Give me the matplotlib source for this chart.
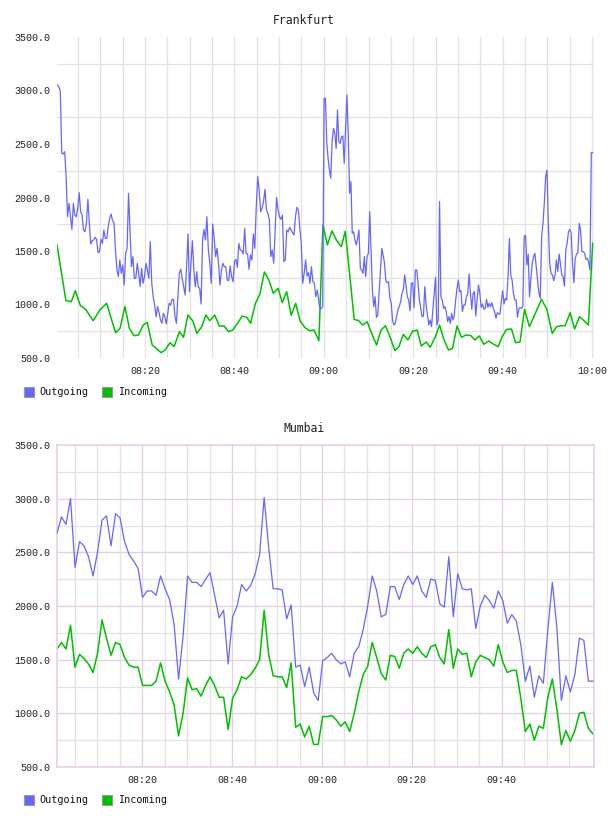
import numpy as np
import matplotlib
matplotlib.use("Agg")
import matplotlib.pyplot as plt
from matplotlib.patches import Rectangle
from matplotlib.ticker import FuncFormatter

# ---------------- data ----------------
series_names = ["Outgoing", "Incoming"]
chart_titles = ["Frankfurt", "Mumbai"]
y_ticks = [500, 1000, 1500, 2000, 2500, 3000, 3500]

# Frankfurt outgoing, two evenly sampled stretches (minutes after 08:00)
fra_out_a_span = (0.39, 58.85)
fra_out_a = [
    3051, 3036, 2989, 2413, 2406, 2428, 2195, 1820, 1945, 1820, 1702, 1945, 1836, 1820, 1899, 2045,
    1867, 1836, 1696, 1680, 1758, 1983, 1758, 1565, 1596, 1603, 1628, 1609, 1484, 1494, 1609, 1572,
    1696, 1618, 1618, 1727, 1805, 1846, 1783, 1765, 1509, 1322, 1260, 1416, 1291, 1369, 1182, 1478,
    1525, 2039, 1696, 1353, 1447, 1244, 1244, 1385, 1291, 1167, 1338, 1198, 1260, 1385, 1322, 1244,
    1587, 1198, 1073, 995, 886, 980, 924, 855, 824, 917, 886, 818, 917, 1011, 995, 1048,
    1048, 886, 824, 1073, 1291, 1329, 1244, 1167, 1089, 1353, 1659, 1120, 1385, 1596, 1322, 1167,
    1307, 1167, 1151, 1005, 1603, 1702, 1603, 1820, 1509, 1385, 1198, 1752, 1618, 1447, 1525, 1385,
    1182, 1322, 1385, 1353, 1353, 1229, 1223, 1360, 1260, 1213, 1400, 1422, 1347, 1572, 1509, 1503,
    1472, 1712, 1478, 1472, 1329, 1463, 1416, 1659, 1525, 1914, 2195, 2070, 1867, 1899, 1961, 2076,
    1883, 1852, 1790, 1447, 1509, 1385, 1696, 2001, 1883, 1820, 1796, 1836, 1400, 1416, 1696, 1680,
    1721, 1696, 1671, 1649, 1820, 1908, 1883, 1712, 1572, 1198, 1291, 1416, 1266, 1297, 1198, 1353,
    1213, 1198, 1073, 1135, 1042,
]
fra_out_b_span = (59.15, 120.15)
fra_out_b = [
    949, 964, 980, 2927, 2927, 2522, 2366, 2257, 2179, 2522, 2646, 2600, 2459, 2818, 2522, 2506,
    2568, 2575, 2319, 2640, 2958, 2600, 2039, 2148, 1665, 1680, 1603, 1556, 1618, 1696, 1338, 1322,
    1291, 1447, 1260, 1447, 1478, 1867, 1509, 1135, 980, 1073, 880, 902, 1104, 1322, 1525, 1463,
    1385, 1223, 1204, 1213, 1058, 1011, 855, 808, 824, 886, 949, 980, 1026, 1104, 1135, 1276,
    1182, 1073, 1042, 942, 1198, 1204, 970, 1322, 1322, 1198, 1042, 964, 886, 892, 1167, 995,
    902, 808, 855, 793, 949, 1104, 1254, 808, 855, 1961, 1073, 1042, 964, 980, 933, 840,
    886, 824, 917, 855, 902, 1042, 1151, 1229, 1120, 1129, 933, 995, 995, 1073, 1104, 1285,
    1104, 955, 1104, 1120, 892, 1048, 1182, 1104, 973, 1005, 955, 964, 1048, 973, 1011, 980,
    1017, 964, 933, 871, 924, 911, 911, 1026, 1129, 1005, 1058, 1042, 1260, 1618, 1276, 1229,
    1104, 1042, 1042, 880, 955, 973, 964, 980, 1634, 1649, 1369, 1472, 1073, 1244, 1385, 1447,
    1478, 1353, 1229, 1104, 1058, 1634, 1758, 1945, 2195, 2257, 1758, 1385, 1291, 1276, 1223, 1276,
    1416, 1307, 1472, 1385, 1276, 1260, 1173, 1509, 1572, 1680, 1702, 1665, 1385, 1204, 1431, 1472,
    1484, 1758, 1696, 1494, 1494, 1478, 1422, 1431, 1400, 1322, 2419, 2419,
]

# Frankfurt incoming: minute after 08:00 and value
fra_in_min = [
    0.3, 2.3, 3.5, 4.4, 5.5, 6.7, 8.4, 9.9, 11.4, 13.4, 14.4, 15.5, 16.5, 17.5, 18.5, 19.6,
    20.5, 21.6, 22.5, 23.6, 24.5, 25.6, 26.5, 27.7, 28.6, 29.6, 30.7, 31.6, 32.7, 33.6, 34.5, 35.6,
    36.6, 37.7, 38.7, 39.6, 40.7, 41.7, 42.8, 43.6, 44.7, 45.7, 46.7, 47.7, 48.7, 49.8, 50.7, 51.7,
    52.7, 53.7, 54.7, 55.8, 56.8, 57.8, 58.9, 59.8,
    60.8, 61.8, 62.9, 63.9, 64.8, 66.8, 67.8, 68.7, 69.7, 70.7, 71.8, 72.8, 73.8, 74.8, 75.9, 76.8,
    77.8, 78.8, 79.9, 80.9, 81.8, 82.9, 83.8, 84.9, 85.9, 86.9, 87.9, 88.8, 89.8, 90.8, 91.8, 92.9,
    93.8, 94.8, 95.8, 96.9, 97.9, 99.0, 99.9, 100.9, 102.0, 102.9, 103.9, 104.9, 106.0, 108.7, 109.9,
    111.1, 112.1, 113.1, 114.0, 115.1, 116.1, 117.2, 118.2, 119.2, 120.15,
]
fra_in = [
    1556, 1036, 1026, 1129, 992, 955, 849, 949, 1011, 737, 777, 980, 777, 709, 715, 808,
    833, 621, 590, 550, 575, 643, 606, 746, 693, 902, 846, 730, 793, 902, 849, 902,
    799, 799, 746, 761, 824, 892, 880, 824, 1011, 1098, 1304, 1229, 1104, 1151, 1017, 1120,
    899, 1011, 846, 783, 755, 761, 662, 1743,
    1556, 1687, 1596, 1540, 1684, 861, 849, 808, 839, 730, 621, 761, 802, 699, 569, 606,
    721, 668, 752, 761, 612, 650, 600, 693, 808, 668, 575, 590, 799, 693, 715, 709,
    668, 706, 628, 659, 631, 606, 699, 768, 771, 643, 650, 955, 793, 1048, 955,
    730, 793, 802, 802, 924, 771, 886, 849, 808, 1572,
]

# Mumbai: evenly sampled between start and end minute (after 08:00)
mum_span = (1.0, 120.3)
mum_out = [
    2680, 2830, 2760, 3000, 2360, 2600, 2560, 2460, 2280, 2500, 2800, 2840, 2560, 2860, 2820, 2600,
    2480, 2420, 2350, 2080, 2140, 2140, 2100, 2280, 2160, 2060, 1830, 1320, 1720, 2280, 2220, 2220,
    2180, 2250, 2310, 2100, 1890, 1960, 1460, 1900, 2000, 2200, 2140, 2190, 2300, 2480, 3010, 2550,
    2160, 2160, 2150, 1880, 2010, 1430, 1450, 1250, 1430, 1190, 1120, 1490, 1520, 1560, 1500, 1460,
    1480, 1340, 1560, 1620, 1780, 2000, 2280, 2140, 1900, 1920, 2180, 2180, 2060, 2200, 2280, 2200,
    2280, 2140, 2080, 2250, 2240, 2020, 1990, 2460, 1900, 2300, 2160, 2150, 2160, 1790, 2000, 2100,
    2050, 1980, 2140, 2050, 1840, 1920, 1860, 1640, 1300, 1440, 1150, 1350, 1280, 1780, 2220, 1800,
    1120, 1350, 1200, 1360, 1700, 1680, 1300, 1300,
]
mum_in = [
    1600, 1660, 1600, 1820, 1430, 1550, 1510, 1460, 1380, 1560, 1870, 1700, 1540, 1660, 1640, 1520,
    1450, 1430, 1430, 1260, 1260, 1260, 1300, 1470, 1300, 1200, 1080, 790, 1000, 1330, 1220, 1230,
    1160, 1260, 1340, 1260, 1150, 1150, 850, 1140, 1220, 1340, 1320, 1360, 1420, 1500, 1960, 1550,
    1350, 1340, 1340, 1240, 1470, 870, 900, 780, 880, 710, 710, 970, 970, 980, 940, 880,
    920, 830, 1000, 1200, 1360, 1440, 1660, 1520, 1370, 1310, 1540, 1530, 1420, 1560, 1600, 1560,
    1620, 1560, 1520, 1620, 1640, 1520, 1460, 1780, 1420, 1600, 1550, 1560, 1340, 1480, 1540, 1520,
    1500, 1440, 1640, 1480, 1380, 1400, 1400, 1140, 830, 900, 750, 880, 860, 1150, 1320, 1040,
    710, 840, 740, 840, 1000, 1010, 860, 810,
]

# ---------------- style ----------------
W, H = 608, 816
BLUE = "#6666ff"
GREEN = "#00c000"
GRID = "#e3e3e3"
PINK = "#e6cfe6"
MONO = ["DejaVu Sans Mono"]
TICKFONT = ["Liberation Mono", "DejaVu Sans Mono"]

fig = plt.figure(figsize=(W / 100, H / 100), dpi=100)
fig.patch.set_facecolor("white")


def fx(x):
    return x / W


def fy(y):
    return 1 - y / H


def hhmm(v, pos=None):
    total = int(round(v))
    return "%02d:%02d" % (8 + total // 60, total % 60)


def setup_axes(ax, xlim, label_minutes, grid_minutes, major_minutes, pink):
    ax.set_xlim(*xlim)
    ax.set_ylim(500, 3500)
    for m in grid_minutes:
        col = PINK if (pink and m in major_minutes) else GRID
        ax.axvline(m, color=col, lw=0.9, zorder=0)
    for v in [750, 1250, 1750, 2250, 2750, 3250]:
        ax.axhline(v, color=GRID, lw=0.9, zorder=0)
    if pink:
        for v in [1000, 1500, 2000, 2500, 3000]:
            ax.axhline(v, color=PINK, lw=0.9, zorder=0)
    ax.set_yticks(y_ticks)
    ax.yaxis.set_major_formatter(FuncFormatter(lambda v, p: "%.1f" % v))
    ax.set_xticks(label_minutes)
    ax.xaxis.set_major_formatter(FuncFormatter(hhmm))
    ax.tick_params(axis="y", length=0, pad=5, labelsize=7.2, colors="#222222")
    ax.tick_params(axis="x", length=0, pad=6, labelsize=7.2, colors="#222222")
    for lab in ax.get_xticklabels() + ax.get_yticklabels():
        lab.set_family(TICKFONT)
    for sp in ax.spines.values():
        sp.set_visible(pink)
        sp.set_color(PINK)
        sp.set_linewidth(1.2)


def legend(y):
    fig.add_artist(Rectangle((fx(24), fy(y + 5)), 10 / W, 10 / H, transform=fig.transFigure,
                             facecolor=BLUE, edgecolor="#999999", lw=0.8))
    fig.text(fx(39), fy(y), series_names[0], family=MONO, fontsize=7.3, va="center", ha="left",
             color="#111111")
    fig.add_artist(Rectangle((fx(102), fy(y + 5)), 10 / W, 10 / H, transform=fig.transFigure,
                             facecolor=GREEN, edgecolor="#999999", lw=0.8))
    fig.text(fx(118), fy(y), series_names[1], family=MONO, fontsize=7.3, va="center", ha="left",
             color="#111111")


# ---------------- Frankfurt ----------------
ax1 = fig.add_axes([fx(57), fy(358), (594 - 57) / W, (358 - 37) / H])
setup_axes(ax1, (0.3, 120.45), [20, 40, 60, 80, 100, 120], list(range(5, 121, 5)),
           [20, 40, 60, 80, 100, 120], pink=False)
t_out = np.concatenate([
    np.linspace(fra_out_a_span[0], fra_out_a_span[1], len(fra_out_a)),
    np.linspace(fra_out_b_span[0], fra_out_b_span[1], len(fra_out_b)),
])
ax1.plot(t_out, fra_out_a + fra_out_b, color=BLUE, lw=0.9, zorder=3)
ax1.plot(fra_in_min, fra_in, color=GREEN, lw=1.1, zorder=2)
fig.text(0.5, fy(20), chart_titles[0], family=MONO, fontsize=8.3, ha="center", va="center",
         color="#222222")
legend(392)

# ---------------- Mumbai ----------------
ax2 = fig.add_axes([fx(57), fy(767), (594 - 57) / W, (767 - 445) / H])
setup_axes(ax2, (1.0, 120.55), [20, 40, 60, 80, 100], list(range(5, 116, 5)),
           [20, 40, 60, 80, 100], pink=True)
t_m = np.linspace(mum_span[0], mum_span[1], len(mum_out))
ax2.plot(t_m, mum_out, color=BLUE, lw=0.9, zorder=3)
t_mi = np.linspace(mum_span[0], mum_span[1], len(mum_in))
ax2.plot(t_mi, mum_in, color=GREEN, lw=1.1, zorder=2)
fig.text(0.5, fy(429), chart_titles[1], family=MONO, fontsize=8.3, ha="center", va="center",
         color="#222222")
legend(800)

fig.savefig("out.png", dpi=100, facecolor="white")
